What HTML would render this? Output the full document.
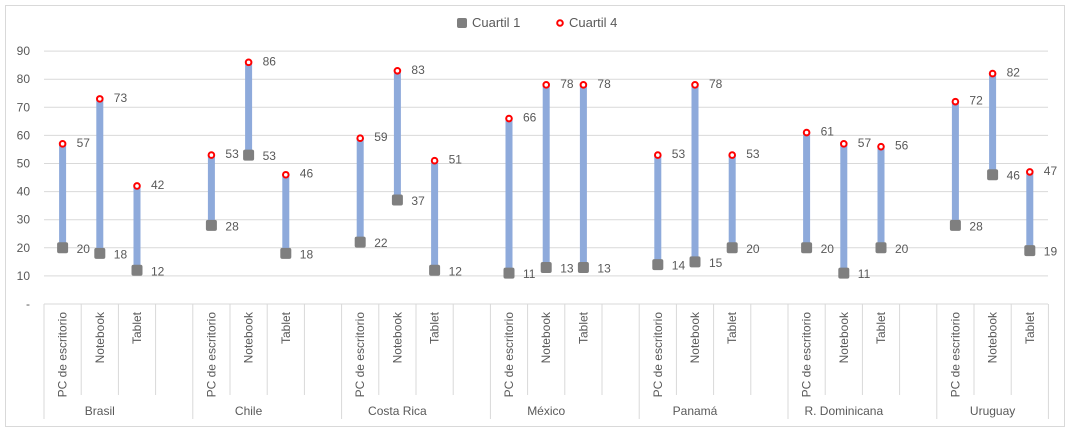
<!DOCTYPE html>
<html><head><meta charset="utf-8"><style>
body{margin:0;background:#fff;font-family:"Liberation Sans",Arial,sans-serif}
svg text{font-family:"Liberation Sans",Arial,sans-serif;fill:#595959}
</style></head><body>
<svg id="chart" width="1071" height="433" xmlns="http://www.w3.org/2000/svg">
<rect x="5.5" y="5.5" width="1059" height="421" fill="#fff" stroke="#d9d9d9"/>
<g>
<rect x="457" y="18" width="10" height="10" rx="2" fill="#7f7f7f"/>
<text x="472" y="27" font-size="13">Cuartil 1</text>
<circle cx="560" cy="23" r="2.8" fill="#fff" stroke="#ff0000" stroke-width="2"/>
<text x="569" y="27" font-size="13">Cuartil 4</text>
</g>
<g id="grid"></g><g id="axes"></g><g id="marks"></g>
</svg>
<script>
const countries=["Brasil","Chile","Costa Rica","México","Panamá","R. Dominicana","Uruguay"];
const devices=["PC de escritorio","Notebook","Tablet"];
const q1=[[20,18,12],[28,53,18],[22,37,12],[11,13,13],[14,15,20],[20,11,20],[28,46,19]];
const q4=[[57,73,42],[53,86,46],[59,83,51],[66,78,78],[53,78,53],[61,57,56],[72,82,47]];
const yTicks=[0,10,20,30,40,50,60,70,80,90];
const yTickLabels=["-","10","20","30","40","50","60","70","80","90"];

const NS="http://www.w3.org/2000/svg";
const X0=44,SLOT=37.2,Y0=304,PX=2.81,XR=1048;
const y=v=>Y0-v*PX;
const xSlot=i=>X0+i*SLOT;
function mk(tag,attrs,parent){const e=document.createElementNS(NS,tag);for(const k in attrs)e.setAttribute(k,attrs[k]);document.getElementById(parent).appendChild(e);return e;}

yTicks.forEach((t,i)=>{
  if(t>0){const g=mk('line',{x1:X0,x2:XR,y1:y(t),y2:y(t),stroke:'#d9d9d9','stroke-width':1},'grid');
  
  }
  const l=mk('text',{x:30,y:y(t)+4,'font-size':12,'text-anchor':'end'},'axes');l.textContent=yTickLabels[i];
  
  
});
const ax=mk('line',{x1:X0,x2:XR,y1:Y0,y2:Y0,stroke:'#d9d9d9'},'axes');



const nSlots=countries.length*4-1;
for(let s=0;s<=nSlots;s++){
  const isGroup=(s%4===0)||s===nSlots;
  const ln=mk('line',{x1:xSlot(s),x2:xSlot(s),y1:Y0,y2:isGroup?419:395,stroke:'#d9d9d9'},'axes');
  
  
}
countries.forEach((c,ci)=>{
  const ct=mk('text',{x:xSlot(ci*4)+SLOT*1.5,y:415,'font-size':12,'text-anchor':'middle'},'axes');ct.textContent=c;
  
  
  devices.forEach((d,di)=>{
    const cx=xSlot(ci*4+di)+SLOT/2;
    const dt=mk('text',{x:0,y:0,'font-size':12,'text-anchor':'end',transform:`translate(${cx+4},312) rotate(-90)`},'axes');dt.textContent=d;
    
    
    const a=q1[ci][di],b=q4[ci][di];
    const bar=mk('line',{x1:cx,x2:cx,y1:y(a),y2:y(b),stroke:'#8eaadb','stroke-width':7},'marks');
    
    
    const sq=mk('rect',{x:cx-5.5,y:y(a)-5.5,width:11,height:11,rx:2,fill:'#7f7f7f'},'marks');
    
    
    const ci4=mk('circle',{cx:cx,cy:y(b),r:2.8,fill:'#fff',stroke:'#ff0000','stroke-width':2},'marks');
    
    
    const la=mk('text',{x:cx+14,y:y(a)+5,'font-size':12},'marks');la.textContent=a;
    
    
    const lb=mk('text',{x:cx+14,y:y(b)+3,'font-size':12},'marks');lb.textContent=b;
    
    
  });
});
</script>
</body></html>
